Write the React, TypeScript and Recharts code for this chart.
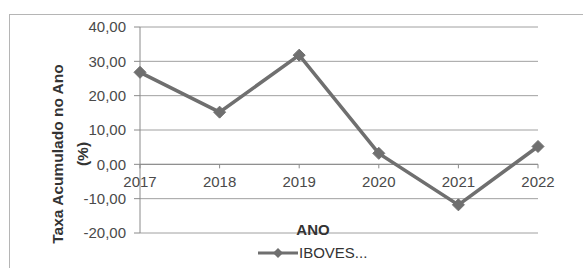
import { LineChart, Line, XAxis, YAxis, CartesianGrid, Legend, ReferenceLine } from "recharts";

const anos = ["2017", "2018", "2019", "2020", "2021", "2022"];
const taxaIbovespa = [26.8, 15.2, 31.8, 3.2, -11.8, 5.2];
const yTicks = [-20, -10, 0, 10, 20, 30, 40];
const serieNome = "IBOVES...";

const data = anos.map((ano, i) => ({ ano, valor: taxaIbovespa[i] }));

const FONT = "'Liberation Sans', Arial, sans-serif";
const W = 583;
const H = 268;
const TOP = 27;
const BOTTOM = 35;
const Y_MIN = -20;
const Y_MAX = 40;
const PLOT_H = H - TOP - BOTTOM;
// posição da linha do zero (o eixo X cruza em 0, como no Excel)
const ZERO_Y = TOP + (PLOT_H * (Y_MAX - 0)) / (Y_MAX - Y_MIN);

const fmt = (v: number) => v.toFixed(2).replace(".", ",");

const Diamond = (props: any) => {
  const { cx, cy } = props;
  if (cx == null || cy == null) return null;
  const r = 6;
  return (
    <polygon
      points={`${cx},${cy - r} ${cx + r},${cy} ${cx},${cy + r} ${cx - r},${cy}`}
      fill="#6f6f6f"
      stroke="#6f6f6f"
    />
  );
};

const XTick = (props: any) => {
  const { x, payload } = props;
  return (
    <g>
      <line x1={x} x2={x} y1={ZERO_Y} y2={ZERO_Y + 4} stroke="#8a8a8a" />
      <text x={x} y={ZERO_Y + 23} textAnchor="middle" fontSize={15} fontFamily={FONT} fill="#4a4a4a">
        {payload.value}
      </text>
    </g>
  );
};

const YTitle = (props: any) => {
  const { viewBox } = props;
  const cy = viewBox.y + viewBox.height / 2 + 24;
  return (
    <g fontFamily={FONT} fontWeight="bold" fontSize={15.5} fill="#333">
      <text x={63} y={cy} transform={`rotate(-90 63 ${cy})`} textAnchor="middle">
        Taxa Acumulado no Ano
      </text>
      <text x={88} y={cy} transform={`rotate(-90 88 ${cy})`} textAnchor="middle">
        (%)
      </text>
    </g>
  );
};

const XTitle = (props: any) => {
  const { viewBox } = props;
  const cx = viewBox.x + viewBox.width / 2 - 26;
  return (
    <text x={cx} y={TOP + PLOT_H + 2} textAnchor="middle" fontFamily={FONT} fontWeight="bold" fontSize={15} fill="#333">
      ANO
    </text>
  );
};

const LegendContent = (props: any) => {
  const item = props.payload && props.payload[0];
  return (
    <svg width={115} height={20}>
      <line x1={0} x2={40} y1={10} y2={10} stroke="#6f6f6f" strokeWidth={3} />
      <polygon points="20,5 25,10 20,15 15,10" fill="#6f6f6f" />
      <text x={41} y={15} fontFamily={FONT} fontSize={15} fill="#333">
        {item ? item.value : serieNome}
      </text>
    </svg>
  );
};

export default function App() {
  return (
    <div style={{ position: "absolute", left: 0, top: 0, width: W, height: H, overflow: "hidden", background: "#fff" }}>
      <div
        style={{
          position: "absolute",
          left: 9,
          top: 14,
          width: 600,
          height: 300,
          border: "1px solid #b5b5b5",
        }}
      />
      <div style={{ position: "absolute", left: 0, top: 0 }}>
        <LineChart width={W} height={H} data={data} margin={{ top: TOP, right: 45, bottom: 0, left: 0 }}>
          <CartesianGrid vertical={false} stroke="#a0a0a0" />
          <XAxis
            dataKey="ano"
            height={BOTTOM}
            axisLine={false}
            tickLine={false}
            interval={0}
            tick={<XTick />}
            label={<XTitle />}
          />
          <YAxis
            width={140}
            domain={[Y_MIN, Y_MAX]}
            ticks={yTicks}
            tickFormatter={fmt}
            tickSize={6}
            tickMargin={8}
            stroke="#8a8a8a"
            tick={{ fill: "#4a4a4a", fontSize: 15, fontFamily: FONT }}
            label={<YTitle />}
          />
          <ReferenceLine y={0} stroke="#8a8a8a" />
          <Line
            type="linear"
            dataKey="valor"
            name={serieNome}
            stroke="#6f6f6f"
            strokeWidth={3.5}
            dot={<Diamond />}
            activeDot={false}
            isAnimationActive={false}
          />
          <Legend
            layout="horizontal"
            verticalAlign="middle"
            content={<LegendContent />}
            wrapperStyle={{ position: "absolute", left: 258, top: 243, width: 115 }}
          />
        </LineChart>
      </div>
    </div>
  );
}
